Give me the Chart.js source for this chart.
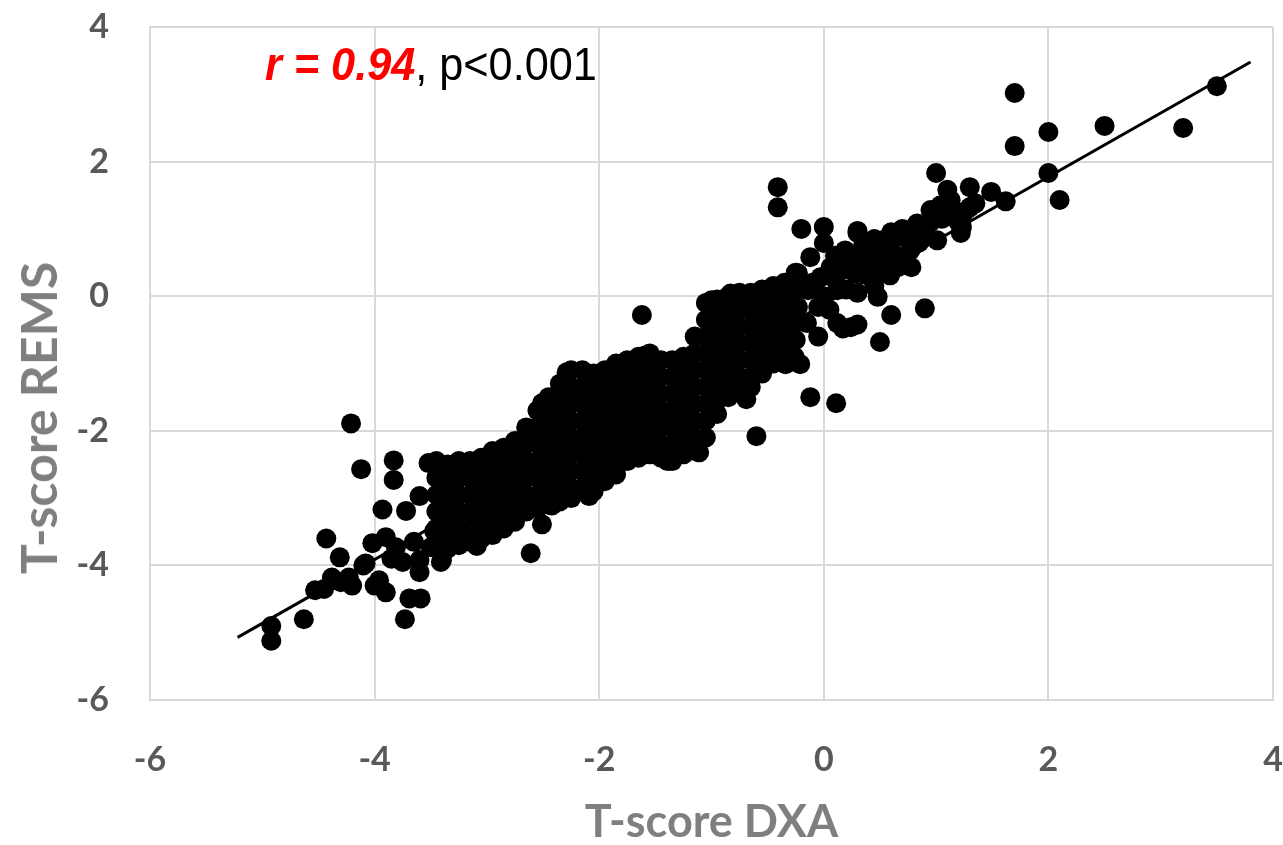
<!DOCTYPE html>
<html>
<head>
<meta charset="utf-8">
<script src="https://cdn.jsdelivr.net/npm/chart.js@4.4.1/dist/chart.umd.min.js"></script>
<style>
  html, body { margin: 0; padding: 0; background: #fff; }
  #wrap { position: relative; width: 1283px; height: 845px; }
  #stat {
    position: absolute; left: 265px; top: 41px;
    font-family: "Liberation Sans", Arial, sans-serif; font-size: 46px; line-height: 1;
    color: #000; white-space: nowrap;
    transform: scaleX(0.94); transform-origin: left top;
  }
  #stat b { color: #ff0000; font-style: italic; }
  #ytitle {
    position: absolute; left: 38px; top: 418px;
    font-family: Lato, "Open Sans", sans-serif; font-weight: bold; font-size: 50px; line-height: 1;
    color: #7f7f7f; white-space: nowrap;
    transform: translate(-50%, -50%) rotate(-90deg);
  }
</style>
</head>
<body>
<div id="wrap">
  <canvas id="scatter" width="1283" height="845"></canvas>
  <div id="stat"><b>r = 0.94</b>, p&lt;0.001</div>
  <div id="ytitle">T-score REMS</div>
</div>
<script>
// [T-score DXA, T-score REMS] pairs
const lowTail = [
  [-4.92,-4.9],[-4.92,-5.12],[-4.63,-4.8],[-4.53,-4.37],[-4.45,-4.35],[-4.38,-4.18],
  [-4.3,-4.25],[-4.23,-4.18],[-4.43,-3.6],[-4.31,-3.88],[-4.2,-4.3],[-4.1,-4.0],
  [-4.08,-3.97],[-4.02,-3.67],[-3.96,-4.22],[-3.9,-4.4],[-3.9,-3.58],[-3.81,-3.73],
  [-3.85,-3.9],[-3.75,-3.95],[-3.73,-4.8],[-3.69,-4.49],[-3.59,-4.49],[-3.6,-4.1],
  [-3.6,-3.92],[-3.5,-3.73],[-3.4,-3.92],[-3.41,-3.95],[-3.93,-3.17],[-3.72,-3.19],
  [-3.6,-2.97],[-3.83,-2.44],[-3.83,-2.73],[-4.12,-2.57],[-4.21,-1.89],[-3.52,-2.48],
  [-3.47,-3.49],[-4.0,-4.3],[-3.65,-3.65]
];

const blobLow = [
  [-3.45,-2.45],[-3.45,-2.7],[-3.45,-2.95],[-3.45,-3.2],[-3.45,-3.45],[-3.45,-3.7],
  [-3.35,-2.5],[-3.35,-2.75],[-3.35,-3.0],[-3.35,-3.25],[-3.35,-3.5],[-3.35,-3.75],
  [-3.25,-2.45],[-3.25,-2.7],[-3.25,-2.95],[-3.25,-3.2],[-3.25,-3.45],[-3.25,-3.7],
  [-3.15,-2.45],[-3.15,-2.7],[-3.15,-2.95],[-3.15,-3.2],[-3.15,-3.45],[-3.15,-3.65],
  [-3.05,-2.4],[-3.05,-2.65],[-3.05,-2.9],[-3.05,-3.15],[-3.05,-3.4],[-3.05,-3.6],
  [-2.95,-2.3],[-2.95,-2.55],[-2.95,-2.8],[-2.95,-3.05],[-2.95,-3.3],[-2.95,-3.55],
  [-3.4,-2.85],[-3.3,-3.1],[-3.2,-2.55],[-3.1,-3.3],[-3.0,-2.75],[-3.09,-3.71]
];

const blobMid = [
  [-2.85,-2.25],[-2.85,-2.5],[-2.85,-2.75],[-2.85,-3.0],[-2.85,-3.25],[-2.85,-3.45],
  [-2.75,-2.15],[-2.75,-2.4],[-2.75,-2.65],[-2.75,-2.9],[-2.75,-3.15],[-2.75,-3.35],
  [-2.65,-1.95],[-2.65,-2.2],[-2.65,-2.45],[-2.65,-2.7],[-2.65,-2.95],[-2.65,-3.2],
  [-2.55,-1.7],[-2.55,-1.95],[-2.55,-2.2],[-2.55,-2.45],[-2.55,-2.7],[-2.55,-2.95],[-2.55,-3.15],
  [-2.45,-1.5],[-2.45,-1.75],[-2.45,-2.0],[-2.45,-2.25],[-2.45,-2.5],[-2.45,-2.75],[-2.45,-3.0],[-2.45,-3.1],
  [-2.35,-1.3],[-2.35,-1.55],[-2.35,-1.8],[-2.35,-2.05],[-2.35,-2.3],[-2.35,-2.55],[-2.35,-2.8],[-2.35,-3.05],
  [-2.51,-3.39],[-2.61,-3.82],[-2.42,-3.11],[-2.51,-1.59],[-2.29,-1.13],[-2.64,-2.02],
  [-2.25,-1.1],[-2.25,-1.35],[-2.25,-1.6],[-2.25,-1.85],[-2.25,-2.1],[-2.25,-2.35],[-2.25,-2.6],[-2.25,-2.85],[-2.25,-3.0],
  [-2.15,-1.1],[-2.15,-1.35],[-2.15,-1.6],[-2.15,-1.85],[-2.15,-2.1],[-2.15,-2.35],[-2.15,-2.6],[-2.15,-2.85],
  [-2.05,-1.15],[-2.05,-1.4],[-2.05,-1.65],[-2.05,-1.9],[-2.05,-2.15],[-2.05,-2.4],[-2.05,-2.65],[-2.05,-2.9],
  [-1.95,-1.1],[-1.95,-1.35],[-1.95,-1.6],[-1.95,-1.85],[-1.95,-2.1],[-1.95,-2.35],[-1.95,-2.6],[-1.95,-2.75],
  [-1.85,-1.0],[-1.85,-1.25],[-1.85,-1.5],[-1.85,-1.75],[-1.85,-2.0],[-1.85,-2.25],[-1.85,-2.5],[-1.85,-2.65],
  [-2.2,-1.5],[-2.1,-2.0],[-2.0,-2.5],[-1.9,-1.7],[-2.09,-2.97]
];

const blobHigh = [
  [-1.75,-0.95],[-1.75,-1.2],[-1.75,-1.45],[-1.75,-1.7],[-1.75,-1.95],[-1.75,-2.2],[-1.75,-2.45],
  [-1.65,-0.9],[-1.65,-1.15],[-1.65,-1.4],[-1.65,-1.65],[-1.65,-1.9],[-1.65,-2.15],[-1.65,-2.4],
  [-1.55,-0.85],[-1.55,-1.1],[-1.55,-1.35],[-1.55,-1.6],[-1.55,-1.85],[-1.55,-2.1],[-1.55,-2.35],
  [-1.45,-0.95],[-1.45,-1.2],[-1.45,-1.45],[-1.45,-1.7],[-1.45,-1.95],[-1.45,-2.2],[-1.45,-2.4],
  [-1.35,-0.95],[-1.35,-1.2],[-1.35,-1.45],[-1.35,-1.7],[-1.35,-1.95],[-1.35,-2.2],[-1.35,-2.45],
  [-1.25,-0.9],[-1.25,-1.15],[-1.25,-1.4],[-1.25,-1.65],[-1.25,-1.9],[-1.25,-2.15],[-1.25,-2.35],
  [-1.15,-0.6],[-1.15,-0.85],[-1.15,-1.1],[-1.15,-1.35],[-1.15,-1.6],[-1.15,-1.85],[-1.15,-2.1],[-1.15,-2.3],
  [-1.62,-0.28],[-1.59,-0.88],[-1.11,-2.32],[-1.39,-2.45],
  [-1.05,-0.1],[-1.05,-0.35],[-1.05,-0.6],[-1.05,-0.85],[-1.05,-1.1],[-1.05,-1.35],[-1.05,-1.6],[-1.05,-1.85],[-1.05,-2.1],
  [-0.95,-0.05],[-0.95,-0.3],[-0.95,-0.55],[-0.95,-0.8],[-0.95,-1.05],[-0.95,-1.3],[-0.95,-1.55],[-0.95,-1.75],
  [-0.85,0.0],[-0.85,-0.25],[-0.85,-0.5],[-0.85,-0.75],[-0.85,-1.0],[-0.85,-1.25],[-0.85,-1.5],
  [-0.75,0.05],[-0.75,-0.2],[-0.75,-0.45],[-0.75,-0.7],[-0.75,-0.95],[-0.75,-1.2],[-0.75,-1.4],
  [-0.65,0.05],[-0.65,-0.2],[-0.65,-0.45],[-0.65,-0.7],[-0.65,-0.95],[-0.65,-1.2],[-0.65,-1.35],
  [-0.55,0.1],[-0.55,-0.15],[-0.55,-0.4],[-0.55,-0.65],[-0.55,-0.9],[-0.55,-1.15],
  [-0.45,0.15],[-0.45,-0.1],[-0.45,-0.35],[-0.45,-0.6],[-0.45,-0.85],[-0.45,-1.0],
  [-0.35,0.2],[-0.35,-0.05],[-0.35,-0.3],[-0.35,-0.55],[-0.35,-0.8],[-0.35,-1.0],
  [-0.25,0.35],[-0.25,0.1],[-0.25,-0.15],[-0.25,-0.4],[-0.25,-0.65],[-0.25,-0.95],
  [-0.41,1.62],[-0.41,1.32],[-0.6,-2.08],[-0.12,-1.5],[0.11,-1.59],[-0.69,-1.53],[-0.34,-1.01],[-0.21,-1.01]
];

const upperArm = [
  [-0.2,1.0],[0.0,1.03],[-0.12,0.58],[0.0,0.79],[-0.23,0.34],[-0.38,0.13],[0.19,0.68],[0.3,0.94],
  [0.36,0.53],[0.54,0.79],[0.66,0.88],[0.77,0.68],[0.66,0.43],[0.83,1.08],[0.95,1.28],[1.13,1.43],
  [1.22,0.94],[1.01,0.83],[1.3,1.32],[0.12,0.09],[0.28,0.34],[0.48,-0.01],[0.24,-0.46],[0.12,-0.4],
  [0.6,-0.28],[0.5,-0.68],[0.9,-0.18],[-0.14,0.09],[-0.03,0.28],[0.06,0.43],[-0.23,-0.16],[-0.05,-0.16],
  [-0.38,-0.21],[-0.52,-0.4],[-0.26,-0.9],[-1.0,-0.06],[-0.83,0.04],[-0.67,-0.01],
  [-0.1,0.2],[0.0,0.0],[0.05,-0.2],[-0.15,-0.4],[-0.05,-0.6],[0.1,0.25],[0.2,0.1],[0.15,0.5],
  [0.25,0.6],[0.35,0.75],[0.45,0.6],[0.4,0.3],[0.55,0.5],[0.6,0.65],[0.7,0.55],[0.75,0.9],
  [0.85,0.8],[0.9,1.0],[1.05,1.15],[1.15,1.25],[1.2,1.1],[0.45,0.15],[0.3,0.05],[0.17,-0.48],
  [0.3,-0.42],[0.59,0.31],[0.78,0.43],[0.56,0.86],[0.3,0.97],[0.88,1.03],[1.23,1.03],[1.04,1.35],[1.1,1.58],
  [0.4,0.45],[0.5,0.35],[0.65,0.6],[0.8,0.75],[0.95,1.1],[1.1,1.3],[0.2,0.4],[0.1,0.6],
  [0.7,1.0],[0.6,0.95],[0.45,0.85],[1.25,1.25]
];

const topRight = [
  [1.0,1.83],[1.3,1.62],[1.49,1.55],[1.62,1.41],[1.35,1.38],[1.7,3.02],[1.7,2.23],
  [2.0,2.44],[2.0,1.83],[2.1,1.43],[2.5,2.53],[3.2,2.5],[3.5,3.12]
];

// regression line end points
const fitLine = [[-5.22,-5.07],[3.8,3.48]];

const xTicks = [-6, -4, -2, 0, 2, 4];
const yTicks = [-6, -4, -2, 0, 2, 4];

const allPoints = lowTail.concat(blobLow, blobMid, blobHigh, upperArm, topRight);
const toXY = p => ({ x: p[0], y: p[1] });

const fam = "Lato, 'Open Sans', sans-serif";
const tickFont = { family: fam, size: 34, weight: "bold" };
const gridColor = "#d9d9d9";

new Chart(document.getElementById("scatter"), {
  type: "scatter",
  data: {
    datasets: [
      {
        data: allPoints.map(toXY),
        backgroundColor: "#000",
        borderWidth: 0,
        pointRadius: 10,
        order: 1
      },
      {
        data: fitLine.map(toXY),
        showLine: true,
        borderColor: "#000",
        borderWidth: 3,
        pointRadius: 0,
        order: 2
      }
    ]
  },
  options: {
    responsive: false,
    animation: false,
    devicePixelRatio: 1,
    layout: { padding: { top: 27, right: 8, left: 0, bottom: 0 } },
    plugins: { legend: { display: false }, tooltip: { enabled: false } },
    scales: {
      x: {
        type: "linear",
        min: -6, max: 4,
        afterBuildTicks: s => { s.ticks = xTicks.map(v => ({ value: v })); },
        afterFit: s => { s.height = 145; s.paddingLeft = 0; s.paddingRight = 0; },
        grid: { color: gridColor, lineWidth: 2, drawTicks: false },
        border: { color: gridColor, width: 2 },
        ticks: { font: tickFont, color: "#595959", padding: 40 },
        title: {
          display: true, text: "T-score DXA", color: "#7f7f7f",
          font: { family: fam, size: 45, weight: "bold", lineHeight: 1 },
          padding: { top: 0, bottom: 0 }
        }
      },
      y: {
        type: "linear",
        min: -6, max: 4,
        afterBuildTicks: s => { s.ticks = yTicks.map(v => ({ value: v })); },
        afterFit: s => { s.width = 150; s.paddingTop = 0; s.paddingBottom = 0; },
        grid: { color: gridColor, lineWidth: 2, drawTicks: false },
        border: { color: gridColor, width: 2 },
        ticks: { font: tickFont, color: "#595959", padding: 41 }
      }
    }
  }
});
</script>
</body>
</html>
